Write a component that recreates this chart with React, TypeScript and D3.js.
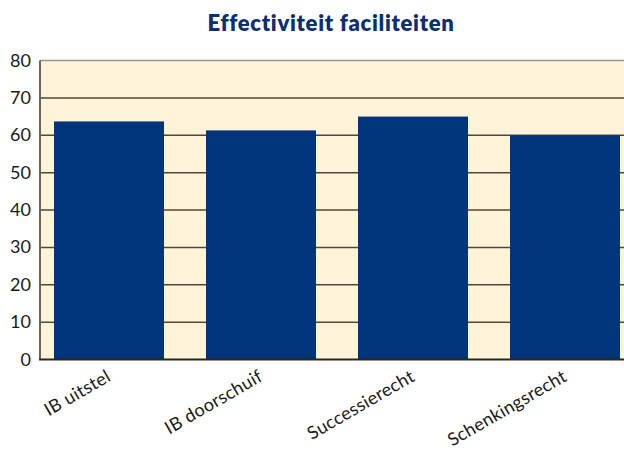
import React from "react";
import * as d3 from "d3";

const categories = ["IB uitstel", "IB doorschuif", "Successierecht", "Schenkingsrecht"];
const values = [63.7, 61.3, 65.0, 60.0];
const yTicks = [0, 10, 20, 30, 40, 50, 60, 70, 80];
const title = "Effectiviteit faciliteiten";

export default function App() {
  const W = 624, H = 452;
  const left = 40, top = 60.5, bottom = 359.5, right = 634;
  const x = d3.scaleBand<string>().domain(categories).range([left, right]).paddingInner(42 / 152).paddingOuter(14 / 152);
  const y = d3.scaleLinear().domain([0, 80]).range([bottom, top]);
  const font = "'Lato', 'Open Sans', sans-serif";
  return (
    <svg width={W} height={H} style={{ position: "absolute", left: 0, top: 0 }}>
      <rect x={0} y={0} width={W} height={H} fill="#ffffff" />
      <text x={331} y={31} textAnchor="middle" fontFamily={font} fontWeight={800} fontSize={22} letterSpacing={0.7} fill="#0b2f73">{title}</text>
      <rect x={left} y={top} width={W - left} height={bottom - top} fill="#fff4da" />
      <line x1={left} x2={W} y1={top} y2={top} stroke="#9a9790" strokeWidth={1.5} />
      {yTicks.filter(t => t > 0 && t < 80).map(t => (
        <line key={t} x1={left} x2={W} y1={y(t)} y2={y(t)} stroke="#524738" strokeWidth={1.5} />
      ))}
      {categories.map((c, i) => (
        <rect key={c} x={x(c)} y={y(values[i])} width={x.bandwidth()} height={bottom - y(values[i])} fill="#01347a" />
      ))}
      <line x1={left} x2={left} y1={top} y2={bottom} stroke="#6b6558" strokeWidth={2} />
      <line x1={left - 1} x2={W} y1={bottom} y2={bottom} stroke="#2a2620" strokeWidth={2} />
      {yTicks.map(t => (
        <text key={t} x={31} y={y(t) + 6} textAnchor="end" fontFamily={font} fontSize={18} fill="#1a1a1a">{t}</text>
      ))}
      {categories.map(c => {
        const cx = (x(c) as number) + x.bandwidth() / 2 + 3;
        return (
          <text key={c} transform={`translate(${cx},${380}) rotate(-30)`} textAnchor="end" fontFamily={font} fontSize={18} letterSpacing={0.3} fill="#1a1a1a">{c}</text>
        );
      })}
    </svg>
  );
}
